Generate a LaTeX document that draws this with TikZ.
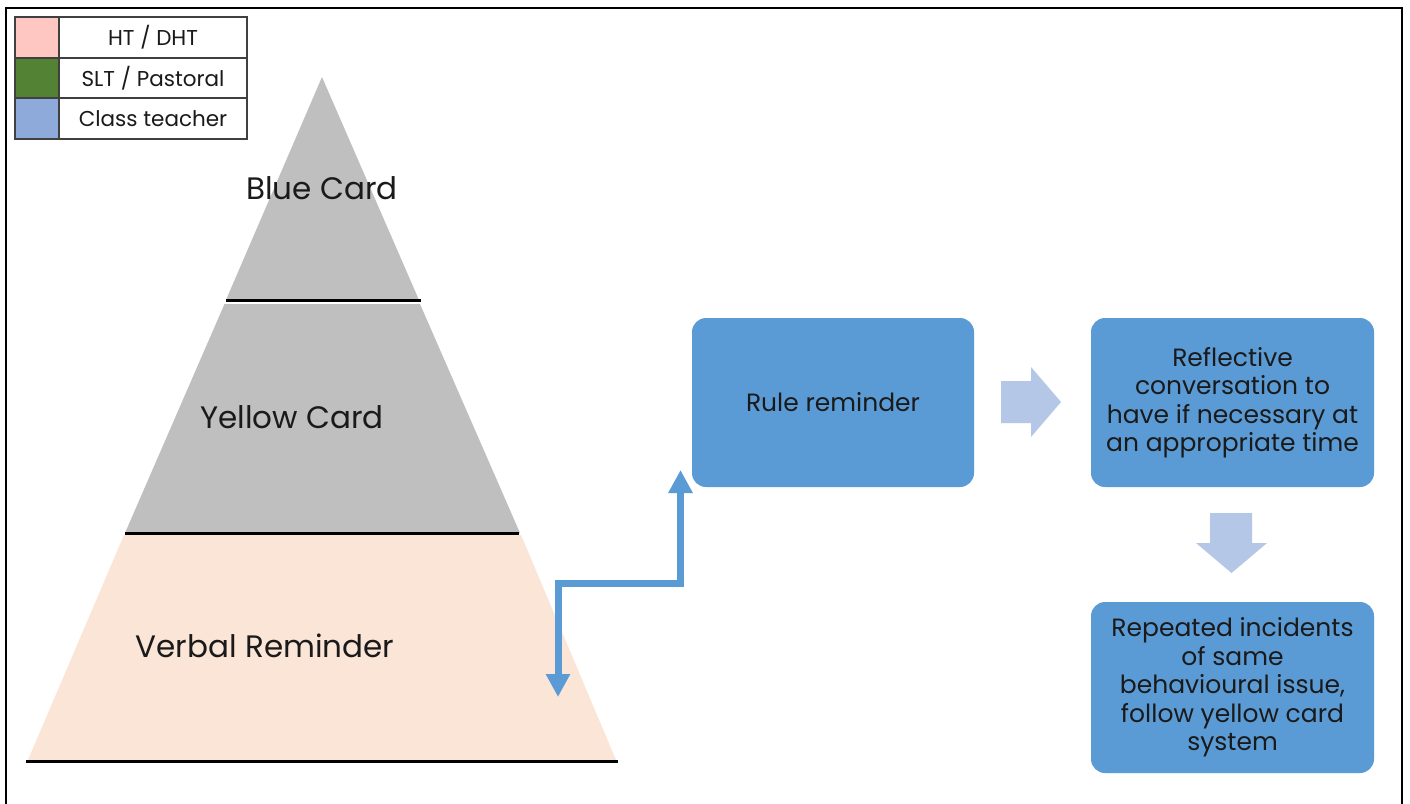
\documentclass[tikz,border=0pt]{standalone}
\usepackage{fontspec}
\setmainfont{Poppins}
\usetikzlibrary{arrows.meta}
\definecolor{boxblue}{HTML}{5B9BD5}
\definecolor{lightarrow}{HTML}{B4C7E7}
\definecolor{pyrgray}{HTML}{BFBFBF}
\definecolor{peach}{HTML}{FBE5D6}
\definecolor{swpink}{HTML}{FFC7C2}
\definecolor{swgreen}{HTML}{548235}
\definecolor{swblue}{HTML}{8EAADB}
\definecolor{txt}{HTML}{1A1A1A}
\tikzset{
  flowbox/.style={fill=boxblue, rounded corners=14pt, text=txt, align=center, font=\fontsize{25}{28.5}\selectfont},
  pyrtext/.style={text=txt, font=\fontsize{31}{36}\selectfont},
  legtext/.style={text=txt, font=\fontsize{21.5}{25}\selectfont},
  sepline/.style={line width=3pt, black},
  connector/.style={draw=boxblue, line width=7pt, {Triangle[width=23pt,length=23pt]}-{Triangle[width=23pt,length=23pt]}},
  blockarrow/.style={fill=lightarrow},
}
\begin{document}
\begin{tikzpicture}[x={(1pt,0)}, y={(0,-1pt)}]
\useasboundingbox (0,0) rectangle (1410,803);
\fill[white] (0,0) rectangle (1410,803);
% frame
\draw[line width=2.5pt, black] (6,806) -- (6,8) -- (1402,8) -- (1402,806);

% legend
\fill[swpink] (15,17) rectangle (59,58);
\fill[swgreen] (15,58) rectangle (59,98);
\fill[swblue] (15,98) rectangle (59,139);
\draw[line width=2pt, black!75] (15,17) rectangle (247,139);
\draw[line width=2pt, black!75] (59,17) -- (59,139) (15,58) -- (247,58) (15,98) -- (247,98);
\node[legtext] (l1) at (153,37.5) {HT / DHT};
\node[legtext] (l2) at (153,78) {SLT / Pastoral};
\node[legtext] (l3) at (153,118.5) {Class teacher};

% pyramid
\fill[pyrgray] (322,77) -- (419,300) -- (226,300) -- cycle;
\fill[pyrgray] (224.5,304) -- (420,304) -- (520,533) -- (125,533) -- cycle;
\fill[peach] (124,535) -- (521,535) -- (616,760) -- (28,760) -- cycle;
\draw[sepline] (226,300) -- (421,300);
\draw[sepline] (125,533) -- (519,533);
\draw[sepline] (26,761) -- (618,761);
\node[pyrtext] (blue) at (322,188) {Blue Card};
\node[pyrtext] (yellow) at (292,417) {Yellow Card};
\node[pyrtext] (verbal) at (265,646) {Verbal Reminder};

% flow boxes
\node[flowbox, minimum width=282pt, minimum height=169pt] (rule) at (833,402.5) {Rule reminder};
\node[flowbox, minimum width=283pt, minimum height=169pt] (refl) at (1232.5,402.5) {Reflective\\conversation to\\have if necessary at\\an appropriate time};
\node[flowbox, minimum width=283pt, minimum height=171pt] (rep) at (1232.5,687.5) {Repeated incidents\\of same\\behavioural issue,\\follow yellow card\\system};

% connector
\coordinate (dn) at (558,697);
\coordinate (up) at (680.5,470);
\draw[connector] (dn) -- (558,583.5) -- (680.5,583.5) -- (up);

% block arrows
\fill[blockarrow] (1001,381) -- (1031,381) -- (1031,367) -- (1061,402) -- (1031,437) -- (1031,423) -- (1001,423) -- cycle;
\fill[blockarrow] (1210,513) -- (1252,513) -- (1252,543) -- (1267,543) -- (1231.5,573) -- (1196,543) -- (1210,543) -- cycle;
\end{tikzpicture}
\end{document}
